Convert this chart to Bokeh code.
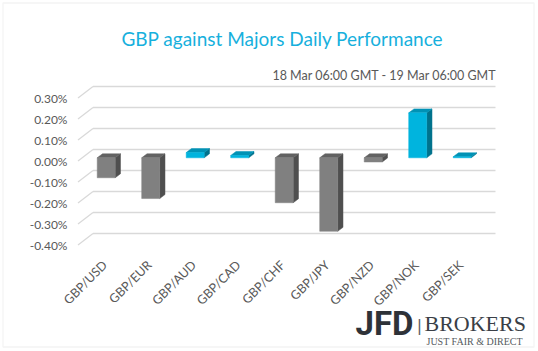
import numpy as np
from bokeh.plotting import figure
from bokeh.models import Range1d, Label, BoxAnnotation
from bokeh.core.properties import value
from bokeh.embed import file_html
from bokeh.resources import INLINE

# ---------------- data ----------------
pairs = ["GBP/USD", "GBP/EUR", "GBP/AUD", "GBP/CAD", "GBP/CHF",
         "GBP/JPY", "GBP/NZD", "GBP/NOK", "GBP/SEK"]
changes = [-0.095, -0.194, 0.025, 0.011, -0.214, -0.350, -0.020, 0.214, 0.005]  # in %
y_ticks = [-0.4, -0.3, -0.2, -0.1, 0.0, 0.1, 0.2, 0.3]
y_tick_labels = ["-0.40%", "-0.30%", "-0.20%", "-0.10%", "0.00%", "0.10%", "0.20%", "0.30%"]
title_text = "GBP against Majors Daily Performance"
subtitle_text = "18 Mar 06:00 GMT - 19 Mar 06:00 GMT"

# ---------------- geometry / style ----------------
W, H = 536, 349
PX_X, PX_Y = 44.5, 210.0          # pixels per category / per 1 %
X_START = -0.645 - 77 / PX_X       # canvas left edge in category units
Y_TOP = 160.5 / PX_Y               # canvas top edge in % units
WALL_L = -0.634                    # front-left edge of the wall
WALL_R = 8.748                     # back-right end of gridlines
DX, DY = 0.337, 0.0548             # depth of the chart (front -> back wall)
BASE = 0.0152                      # bar front plane offset
HW = 0.202                         # half bar width
BDX, BDY = 0.119, 0.019            # bar depth
YLAB_X = -0.87                     # right edge of y tick labels
XLAB_DX, XLAB_Y = -0.03, -0.485    # anchor of category labels

GRID = "#d9d9d9"
TXT = "#595959"
FONT = "Lato"

p = figure(width=W, height=H, output_backend="svg", toolbar_location=None,
           x_range=Range1d(X_START, X_START + W / PX_X),
           y_range=Range1d(Y_TOP - H / PX_Y, Y_TOP),
           x_axis_location=None, y_axis_location=None, min_border=0)
p.outline_line_color = None
p.xgrid.visible = False
p.ygrid.visible = False
p.background_fill_color = "white"
p.border_fill_color = "white"

# chart border
p.add_layout(BoxAnnotation(left=2.5, right=533.5, top=2.5, bottom=346.5,
                           left_units="canvas", right_units="canvas",
                           top_units="canvas", bottom_units="canvas",
                           fill_color=None, line_color="#d9d9d9", line_width=1.3))

# back wall gridlines + side diagonals
t = np.array(y_ticks)
p.segment(x0=[WALL_L] * len(t), y0=t, x1=[WALL_L + DX] * len(t), y1=t + DY,
          line_color=GRID, line_width=1.3)
p.segment(x0=[WALL_L + DX] * len(t), y0=t + DY, x1=[WALL_R] * len(t), y1=t + DY,
          line_color=GRID, line_width=1.6)

# y tick labels (front plane)
p.text(x=[YLAB_X] * len(y_ticks), y=y_ticks, text=y_tick_labels,
       text_align="right", text_baseline="middle", text_font=value(FONT),
       text_font_size="12px", text_color=TXT)

# category labels
idx = np.arange(len(pairs))
p.text(x=idx + XLAB_DX, y=[XLAB_Y] * len(pairs), text=pairs, angle=np.pi / 4,
       text_align="right", text_baseline="middle", text_font=value(FONT),
       text_font_size="12.5px", text_color=TXT)

# 3D bars
fxs, fys, fcol = [], [], []
sxs, sys_, scol = [], [], []
txs, tys, tcol = [], [], []
for i, v in enumerate(changes):
    b, tp = BASE, BASE + v
    lo, hi = min(b, tp), max(b, tp)
    pos = v >= 0
    cf, cs, ct = ("#00b4de", "#00728c", "#0092b5") if pos else ("#808080", "#4f4f4f", "#626262")
    fxs.append([i - HW, i + HW, i + HW, i - HW]); fys.append([lo, lo, hi, hi]); fcol.append(cf)
    sxs.append([i + HW, i + HW + BDX, i + HW + BDX, i + HW]); sys_.append([lo, lo + BDY, hi + BDY, hi]); scol.append(cs)
    txs.append([i - HW, i + HW, i + HW + BDX, i - HW + BDX]); tys.append([hi, hi, hi + BDY, hi + BDY]); tcol.append(ct)

p.patches(xs=sxs, ys=sys_, fill_color=scol, line_color=scol, line_width=0.5)
p.patches(xs=txs, ys=tys, fill_color=tcol, line_color=tcol, line_width=0.5)
p.patches(xs=fxs, ys=fys, fill_color=fcol, line_color=fcol, line_width=0.5)

# texts placed in canvas coordinates (origin top-left)
def lab(x, y, text, **kw):
    p.add_layout(Label(x=x, y=y, x_units="canvas", y_units="canvas", text=text, **kw))

lab(282, 37.5, title_text, text_align="center", text_baseline="middle",
    text_font=FONT, text_font_size="19px", text_color="#17b0dd")
lab(496, 75, subtitle_text, text_align="right", text_baseline="middle",
    text_font=FONT, text_font_size="12.5px", text_color=TXT)

# logo
lab(413, 323, "JFD", text_align="right", text_baseline="middle",
    text_font="Roboto", text_font_style="bold", text_font_size="33px", text_color="#2e3238")
lab(419, 325, "|", text_align="center", text_baseline="middle",
    text_font="DejaVu Sans", text_font_size="16px", text_color="#5a5e66")
lab(424, 322.5, "BROKERS", text_align="left", text_baseline="middle",
    text_font="Liberation Serif", text_font_size="22px", text_color="#3a3f47")
lab(426, 340.5, "JUST FAIR & DIRECT", text_align="left", text_baseline="middle",
    text_font="Liberation Serif", text_font_size="10px", text_color="#555a60")

open("out.html", "w").write(file_html(p, INLINE))
